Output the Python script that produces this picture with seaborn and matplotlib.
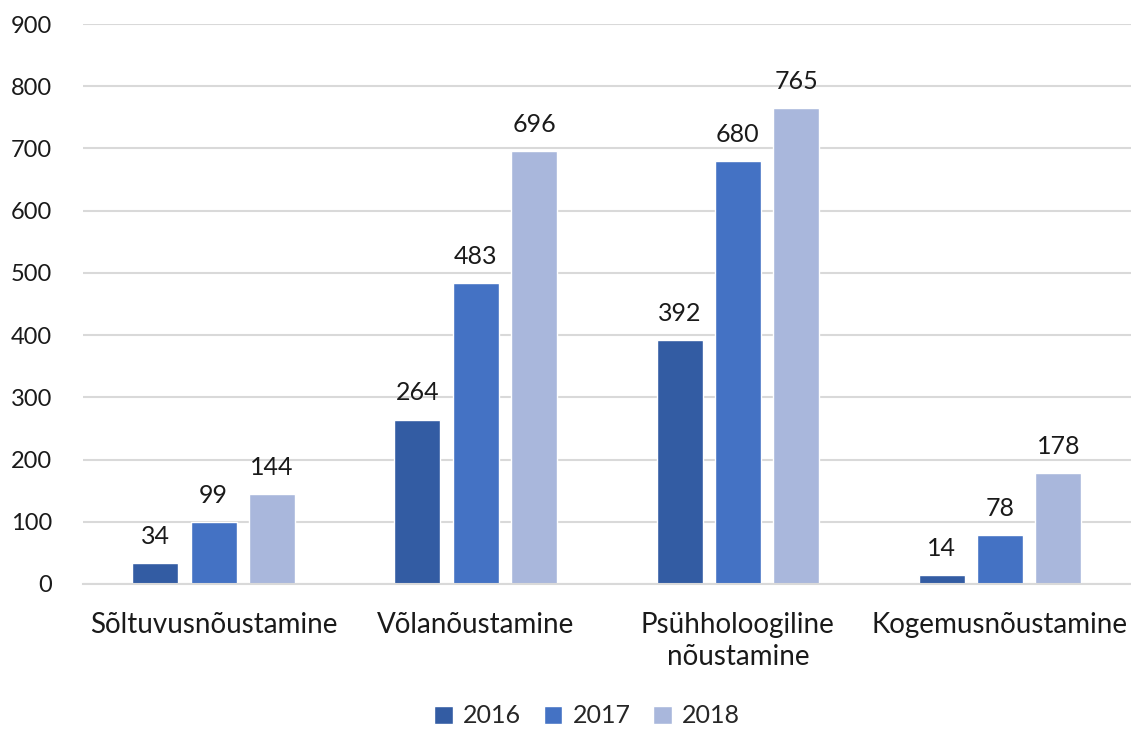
import matplotlib
matplotlib.use("Agg")
import matplotlib.pyplot as plt
import seaborn as sns
import pandas as pd

categories = ["Sõltuvusnõustamine", "Võlanõustamine", "Psühholoogiline\nnõustamine", "Kogemusnõustamine"]
years = ["2016", "2017", "2018"]
values_2016 = [34, 264, 392, 14]
values_2017 = [99, 483, 680, 78]
values_2018 = [144, 696, 765, 178]
colors = ["#335CA3", "#4472C4", "#A9B7DC"]

rows = []
for yr, vals in zip(years, [values_2016, values_2017, values_2018]):
    for cat, v in zip(categories, vals):
        rows.append({"Teenus": cat, "Aasta": yr, "Arv": v})
df = pd.DataFrame(rows)

sns.set_theme(style="white")
plt.rcParams["font.family"] = ["Lato", "DejaVu Sans"]

fig = plt.figure(figsize=(11.31, 7.29), dpi=100)
ax = fig.add_axes([0.073, 0.199, 0.927, 0.768])

sns.barplot(data=df, x="Teenus", y="Arv", hue="Aasta", palette=colors,
            width=0.667, gap=0.21, ax=ax, saturation=1, legend=True)

ax.set_ylim(0, 900)
ax.set_xlim(-0.5, 3.5)
ax.set_yticks(range(0, 901, 100))
ax.yaxis.grid(True, color="#D9D9D9", linewidth=1.5)
ax.set_axisbelow(True)
for s in ["top", "right", "left"]:
    ax.spines[s].set_visible(False)
ax.spines["bottom"].set_color("#D9D9D9")
ax.spines["bottom"].set_linewidth(1.5)
ax.set_xlabel("")
ax.set_ylabel("")
ax.tick_params(axis="x", labelsize=20, colors="#1a1a1a", length=0, pad=20)
ax.tick_params(axis="y", labelsize=17, colors="#1a1a1a", length=0, pad=22)
for lbl in ax.get_xticklabels():
    lbl.set_linespacing(1.3)

for cont in ax.containers:
    ax.bar_label(cont, fmt="%d", padding=11, fontsize=18, color="#1a1a1a")

handles, labels = ax.get_legend_handles_labels()
ax.legend_.remove()
fig.legend(handles, labels, loc="center", bbox_to_anchor=(0.519, 0.018), ncol=3,
           frameon=False, fontsize=18, handlelength=0.75, handleheight=0.75,
           handletextpad=0.4, columnspacing=0.9)

fig.savefig("out.png", dpi=100)
